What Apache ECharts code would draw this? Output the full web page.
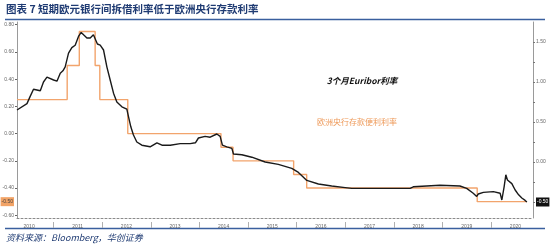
<!DOCTYPE html>
<html><head><meta charset="utf-8">
<script src="https://cdn.jsdelivr.net/npm/echarts@6/dist/echarts.min.js"></script>
<style>html,body{margin:0;padding:0;background:#fff}#c{width:558px;height:252px}</style>
</head><body><div id="c"></div>
<script>
// 3个月Euribor利率 (right axis)
const euriborDates = ['2010-04-01','2010-06-15','2010-07-09','2010-08-03','2010-09-23','2010-10-17','2010-11-12','2011-01-01','2011-01-26','2011-02-20','2011-03-12','2011-03-29','2011-04-23','2011-05-18','2011-06-12','2011-07-07','2011-07-27','2011-08-14','2011-09-08','2011-10-03','2011-10-27','2011-11-09','2011-11-26','2011-12-17','2012-01-11','2012-02-05','2012-03-01','2012-03-26','2012-04-20','2012-05-28','2012-07-04','2012-07-16','2012-08-03','2012-08-22','2012-09-17','2012-10-25','2012-12-26','2013-02-15','2013-03-25','2013-05-26','2013-08-09','2013-10-23','2013-12-01','2013-12-24','2014-02-12','2014-03-22','2014-05-11','2014-06-05','2014-06-22','2014-07-25','2014-09-01','2014-09-13','2014-11-15','2015-01-29','2015-05-09','2015-08-16','2015-11-25','2016-01-14','2016-03-17','2016-06-12','2016-09-20','2016-12-30','2017-02-18','2017-05-29','2018-05-02','2018-05-26','2018-12-12','2019-05-11','2019-07-01','2019-08-19','2019-09-14','2019-09-26','2019-11-03','2020-01-17','2020-03-08','2020-03-21','2020-04-07','2020-04-20','2020-05-02','2020-05-15','2020-06-04','2020-06-29','2020-07-25','2020-08-18','2020-09-12','2020-09-25'];
const euriborValues = [0.65,0.73,0.82,0.91,0.89,1.00,1.06,1.025,1.01,1.11,1.14,1.19,1.36,1.43,1.46,1.57,1.62,1.59,1.55,1.55,1.59,1.60,1.475,1.46,1.40,1.19,1.025,0.86,0.75,0.69,0.66,0.57,0.44,0.34,0.25,0.21,0.19,0.24,0.21,0.21,0.23,0.23,0.24,0.30,0.32,0.31,0.35,0.32,0.21,0.19,0.17,0.10,0.09,0.06,0.00,-0.03,-0.08,-0.13,-0.23,-0.275,-0.30,-0.32,-0.33,-0.33,-0.33,-0.31,-0.29,-0.30,-0.33,-0.39,-0.43,-0.40,-0.38,-0.37,-0.39,-0.475,-0.31,-0.16,-0.225,-0.25,-0.27,-0.35,-0.41,-0.45,-0.48,-0.50];
// 欧洲央行存款便利利率 (left axis)
const ecbDates = ['2010-04-01','2011-04-13','2011-07-13','2011-11-09','2011-12-14','2012-07-11','2014-06-11','2014-09-10','2015-12-09','2016-03-16','2019-09-18','2020-09-25'];
const ecbValues = [0.25,0.50,0.75,0.50,0.25,0.00,-0.10,-0.20,-0.30,-0.40,-0.50,-0.50];
const leftTickValues = [-0.6,-0.4,-0.2,0,0.2,0.4,0.6,0.8];
const rightLabelValues = [-0.5,0,0.5,1,1.5];
const rightTickValues = [-0.5,-0.25,0,0.25,0.5,0.75,1,1.25,1.5];
const yearLabels = [2010,2011,2012,2013,2014,2015,2016,2017,2018,2019,2020];
const latestEcb = -0.5;
const latestEuribor = -0.5;

const ts = s => Date.UTC(+s.slice(0,4), +s.slice(5,7) - 1, +s.slice(8,10));
const euriborData = euriborDates.map((d, i) => [ts(d), euriborValues[i]]);
const ecbData = ecbDates.map((d, i) => [ts(d), ecbValues[i]]);
const yearMid = yearLabels.map(y => ts(y + '-07-01'));
const yearStart = yearLabels.map(y => ts(y + '-01-01'));

const axisGrey = '#9a9a9a';
const xMin = ts('2010-04-01'), xMax = ts('2020-11-10');

const chart = echarts.init(document.getElementById('c'));
chart.setOption({
  animation: false,
  backgroundColor: '#fff',
  grid: { left: 17, right: 25, top: 22, bottom: 34, outerBoundsMode: 'none' },
  xAxis: [
    { type: 'value', min: xMin, max: xMax, scale: true,
      axisLine: { show: true, onZero: false, lineStyle: { color: '#8a8a8a', width: 1, type: [2, 2] } },
      axisTick: { show: false }, axisLabel: { show: false }, splitLine: { show: false } },
    { type: 'value', min: xMin, max: xMax, scale: true, position: 'bottom', offset: 4,
      axisLine: { show: false, onZero: false },
      axisTick: { show: true, customValues: yearStart, length: 6, lineStyle: { color: '#b0b0b0', width: 1 } },
      axisLabel: { show: true, customValues: yearMid, margin: 2, fontSize: 5, color: '#666',
        formatter: v => String(new Date(v).getUTCFullYear()) },
      splitLine: { show: false } }
  ],
  yAxis: [
    { type: 'value', min: -0.62, max: 0.82, position: 'left',
      axisLine: { show: true, onZero: false, lineStyle: { color: axisGrey, width: 1 } },
      axisTick: { show: true, customValues: leftTickValues, length: 2, lineStyle: { color: '#666' } },
      axisLabel: { show: true, customValues: leftTickValues.concat([latestEcb]), margin: 3, fontSize: 5, color: '#666',
        formatter: v => Math.abs(v - latestEcb) < 1e-9 ? '{hl|' + latestEcb.toFixed(2) + '}' : v.toFixed(2),
        rich: { hl: { backgroundColor: '#F2A366', color: '#444', fontSize: 5, padding: [2, 1, 2, 1] } } },
      splitLine: { show: false } },
    { type: 'value', min: -0.7, max: 1.75, position: 'right',
      axisLine: { show: true, onZero: false, lineStyle: { color: axisGrey, width: 1 } },
      axisTick: { show: true, customValues: rightTickValues, length: 2, lineStyle: { color: '#777' } },
      axisLabel: { show: true, customValues: rightLabelValues, margin: 3, fontSize: 5, color: '#666',
        formatter: v => Math.abs(v - latestEuribor) < 1e-9 ? '{bk|' + latestEuribor.toFixed(2) + '}' : v.toFixed(2),
        rich: { bk: { backgroundColor: '#111', color: '#fff', fontSize: 5, padding: [2, 1, 2, 1] } } },
      splitLine: { show: false } }
  ],
  series: [
    { name: '欧洲央行存款便利利率', type: 'line', xAxisIndex: 0, yAxisIndex: 0, step: 'end',
      data: ecbData, showSymbol: false, lineStyle: { color: '#F2A46C', width: 1.4 }, z: 2 },
    { name: '3个月Euribor利率', type: 'line', xAxisIndex: 0, yAxisIndex: 1,
      data: euriborData, showSymbol: false, lineStyle: { color: '#1a1a1a', width: 1.4 }, z: 3 }
  ],
  graphic: [
    { type: 'text', left: 6, top: 4, style: { text: '图表 7 短期欧元银行间拆借利率低于欧洲央行存款利率',
      font: 'bold 10.5px "Noto Sans CJK SC"', fill: '#1F3B73' } },
    { type: 'line', shape: { x1: 5, y1: 19.5, x2: 545, y2: 19.5 }, style: { stroke: '#3A5F9E', lineWidth: 1.5 } },
    { type: 'line', shape: { x1: 5, y1: 228.5, x2: 545, y2: 228.5 }, style: { stroke: '#3A5F9E', lineWidth: 1.5 } },
    { type: 'text', left: 6, top: 233, style: { text: '资料来源：Bloomberg，华创证券',
      font: 'italic 9px "Noto Sans CJK SC"', fill: '#1F3B73' } },
    { type: 'text', x: 362, y: 81, style: { text: '3个月Euribor利率', align: 'center', verticalAlign: 'middle',
      font: 'italic bold 8.5px "Noto Sans CJK SC"', fill: '#111' } },
    { type: 'text', x: 357, y: 122, style: { text: '欧洲央行存款便利利率', align: 'center', verticalAlign: 'middle',
      font: '8px "Noto Sans CJK SC"', fill: '#EE9A5A' } }
  ]
});
</script>
</body></html>
